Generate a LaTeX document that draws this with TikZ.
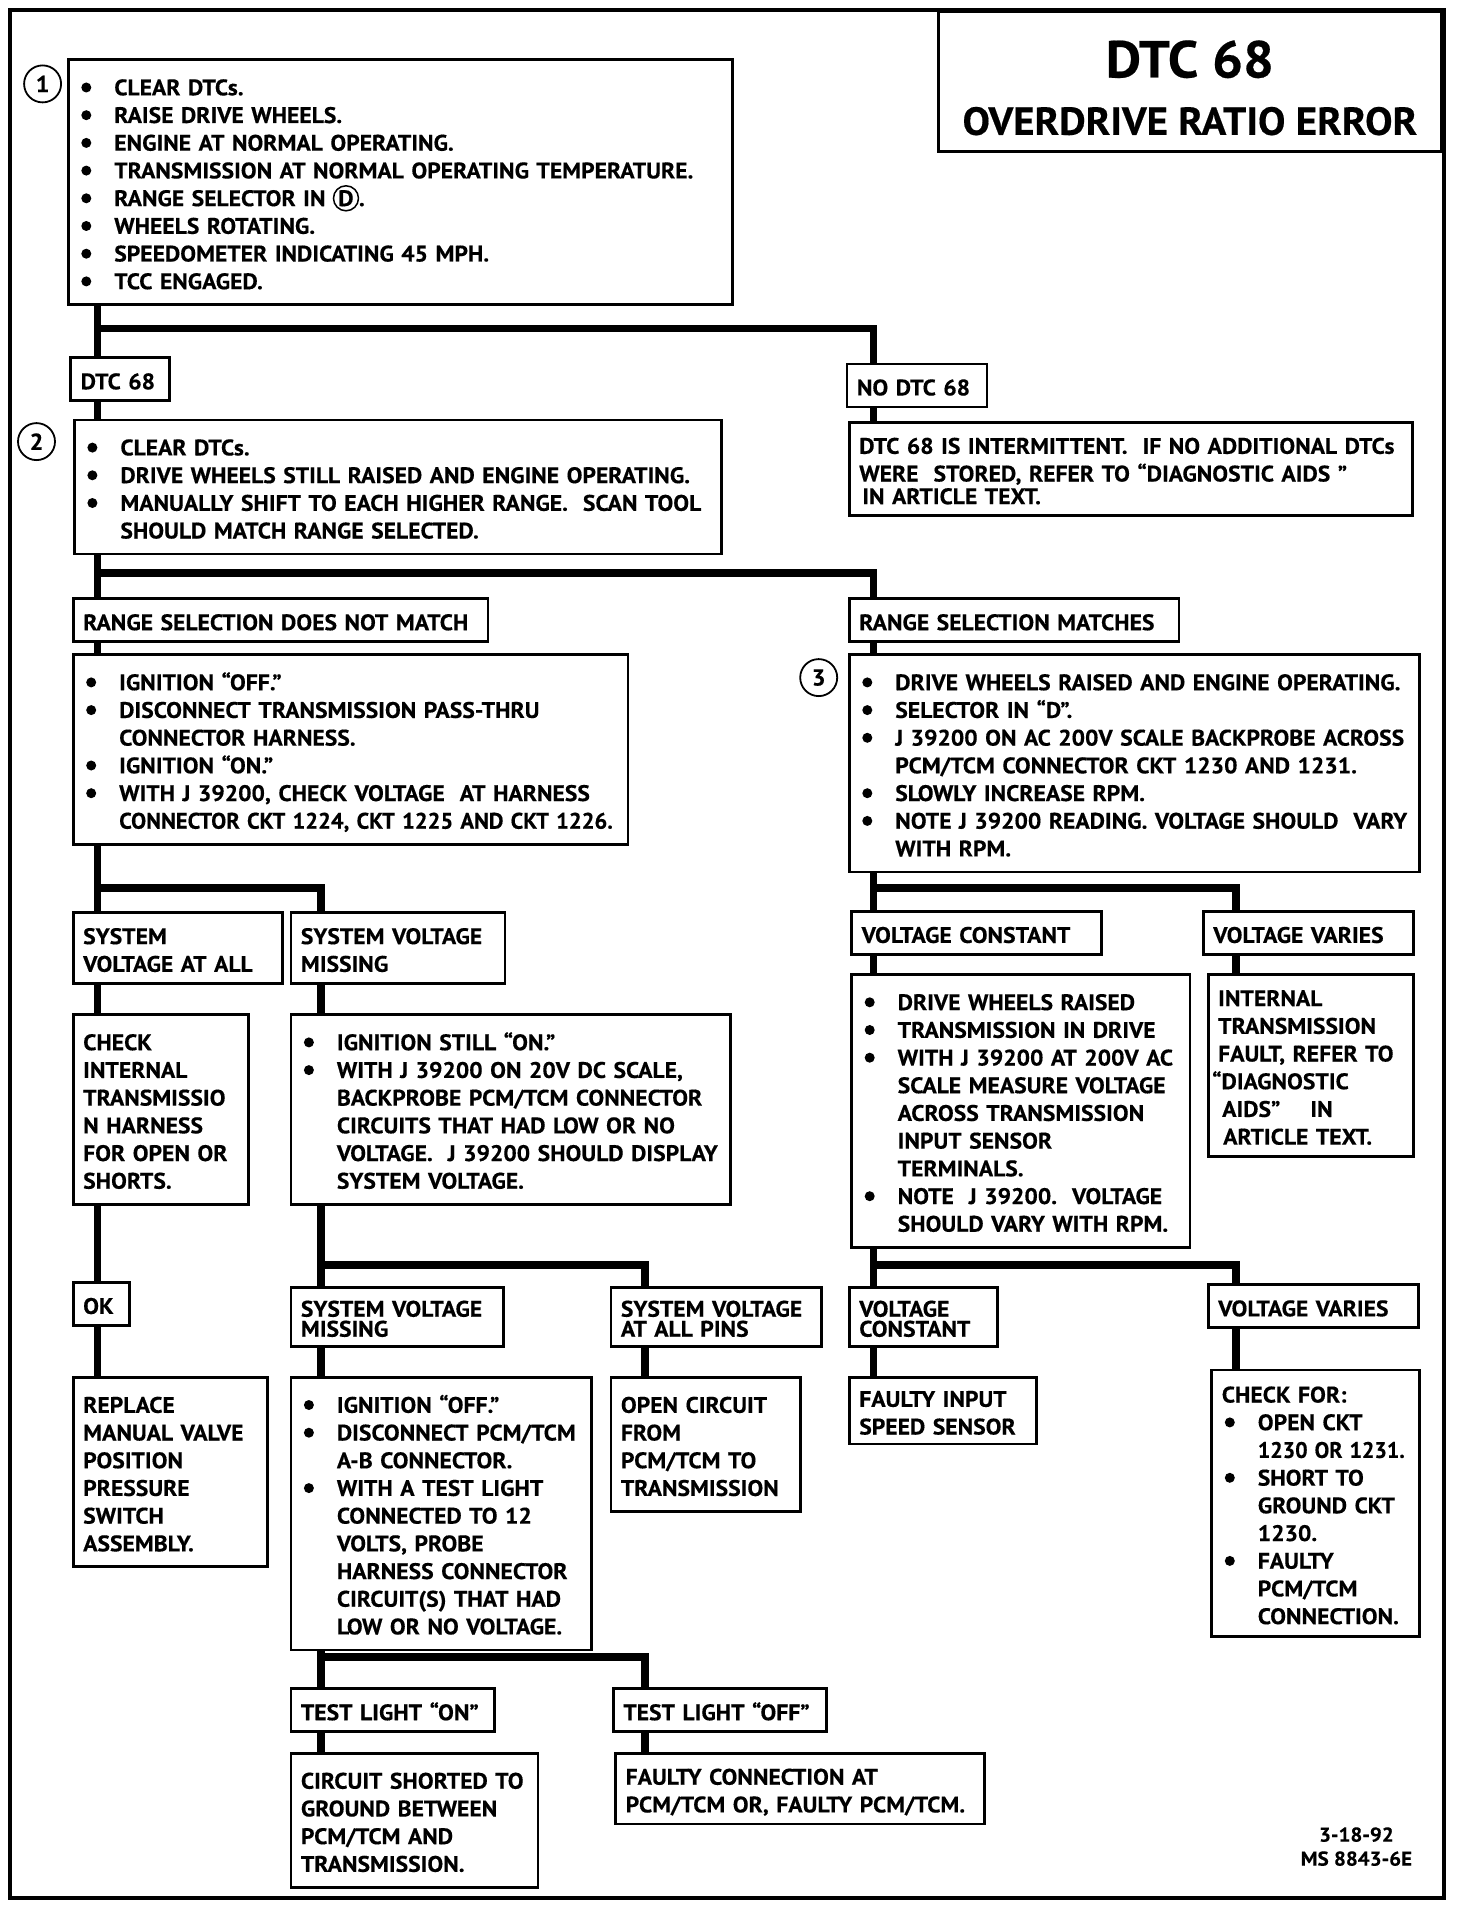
\documentclass[tikz,border=0pt]{standalone}
\usepackage{fontspec}
\setmainfont{PT Sans}[FakeStretch=1.05,BoldFeatures={FakeBold=0.4}]
\usepackage{tikz}

% box text: bold caps, fixed line pitch
\newcommand\bx{\bfseries\fontsize{22.5}{27.7}\selectfont}
\newcommand\bxt{\bfseries\fontsize{22.5}{20}\selectfont}
\newcommand\bs{\rule{0pt}{23.5pt}}
\newcommand\be{\ifhmode\rule[-3.5pt]{0pt}{3.5pt}\fi}
\newcommand\ei{\rule[-3.5pt]{0pt}{3.5pt}\par}
\newcommand\para{\rightskip=0pt plus 1fil minus 30pt\relax\linepenalty=5000\relax}
\newcommand\nl{\hfil\break}
\newcommand\dotb{\tikz[baseline=0pt]\fill (0pt,7.8pt) circle (5pt);}
\newcommand\bi{\hangindent=36pt\hangafter=1\makebox[36pt][l]{\hspace{3pt}\dotb}}
\newcommand\cD{\makebox[26pt]{D}\tikz[overlay]\draw[line width=1.5pt] (-13pt,7.8pt) circle (12.5pt);}

\begin{document}
\begin{tikzpicture}[x=1pt,y=-1pt,
  box/.style={draw,line width=2.8pt,anchor=north west,inner xsep=10pt,inner ysep=12pt,
    font=\bx,execute at begin node={\para\bs},execute at end node=\be},
  lab/.style={box,inner ysep=8pt},
  tight/.style={box,inner ysep=6pt,font=\bxt},
  num/.style={circle,draw,line width=1.8pt,minimum size=37pt,inner sep=0pt,font=\bfseries\fontsize{23}{23}\selectfont},
  conn/.style={line width=7.5pt}]
\useasboundingbox (0,0) rectangle (1472,1908);
\draw[line width=4pt] (9.7,9.7) rectangle (1444,1897.7);

% title
\node[draw,line width=2.8pt,anchor=north west,minimum width=503pt,minimum height=140pt,inner sep=0pt] (ttl) at (937,10)
  {\parbox{483pt}{\centering\bfseries\fontsize{52}{57.3}\selectfont\rule{0pt}{50pt}DTC 68\\
   \fontsize{39}{57.3}\selectfont OVERDRIVE RATIO ERROR}};

% step numbers
\node[num] (n1) at (42.6,83.9) {1};
\node[num] (n2) at (36.5,441.6) {2};
\node[num] (n3) at (818.7,677.6) {3};

% left column
\node[box,text width=644pt] (s1) at (66.9,58.4)
  {\bi CLEAR DTCs.\par
   \bi RAISE DRIVE WHEELS.\par
   \bi ENGINE AT NORMAL OPERATING.\par
   \bi TRANSMISSION AT NORMAL OPERATING TEMPERATURE.\par
   \bi RANGE SELECTOR IN \cD.\par
   \bi WHEELS ROTATING.\par
   \bi SPEEDOMETER INDICATING 45 MPH.\par
   \bi TCC ENGAGED.\ei};
\node[lab,text width=78.5pt] (dtc) at (69.3,356.4) {DTC 68};
\node[lab,text width=120pt] (nodtc) at (845.5,362.5) {NO DTC 68};
\node[box,text width=627pt] (s2) at (73,418.5)
  {\bi CLEAR DTCs.\par
   \bi DRIVE WHEELS STILL RAISED AND ENGINE OPERATING.\par
   \bi MANUALLY SHIFT TO EACH HIGHER RANGE.\ \ SCAN TOOL\nl
   SHOULD MATCH RANGE SELECTED.\ei};
\node[box,inner ysep=8pt,text width=543pt] (inter) at (847.9,420.9)
  {DTC 68 IS INTERMITTENT.\ \ IF NO ADDITIONAL DTCs\\
   WERE\ \ STORED, REFER TO “DIAGNOSTIC AIDS ”\\[-5pt]
   \hspace*{3pt}IN ARTICLE TEXT.};
\node[lab,text width=394.8pt] (rnm) at (71.8,597.3) {RANGE SELECTION DOES NOT MATCH};
\node[lab,text width=309.7pt] (rm) at (847.9,597.3) {RANGE SELECTION MATCHES};
\node[box,text width=534.7pt] (dis) at (71.8,653.3)
  {\bi IGNITION “OFF.”\par
   \bi DISCONNECT TRANSMISSION PASS-THRU\nl CONNECTOR HARNESS.\par
   \bi IGNITION “ON.”\par
   \bi WITH J 39200, CHECK VOLTAGE\ \ AT HARNESS\nl \scalebox{0.955}[1]{CONNECTOR CKT 1224, CKT 1225 AND CKT 1226.}\ei};
\node[box,text width=550.5pt] (s3) at (847.9,653.3)
  {\bi DRIVE WHEELS RAISED AND ENGINE OPERATING.\par
   \bi SELECTOR IN “D”.\par
   \bi J 39200 ON AC 200V SCALE BACKPROBE ACROSS\nl PCM/TCM CONNECTOR CKT 1230 AND 1231.\par
   \bi SLOWLY INCREASE RPM.\par
   \bi NOTE J 39200 READING. VOLTAGE SHOULD\ \ VARY\nl WITH RPM.\ei};

\node[lab,text width=189.2pt] (sva) at (71.8,911.2) {SYSTEM\\ VOLTAGE AT ALL};
\node[lab,text width=194pt] (svm1) at (289.5,911.2) {SYSTEM VOLTAGE\\ MISSING};
\node[lab,text width=229.4pt] (vc1) at (850.3,910) {VOLTAGE CONSTANT};
\node[lab,text width=190.5pt] (vv1) at (1201.9,910) {VOLTAGE VARIES};

\node[box,text width=155.2pt] (chk) at (71.8,1013.3)
  {CHECK\\ INTERNAL\\ TRANSMISSIO\\ N HARNESS\\ FOR OPEN OR\\ SHORTS.};
\node[box,text width=419.2pt] (ign) at (289.5,1013.3)
  {\bi IGNITION STILL “ON.”\par
   \bi WITH J 39200 ON 20V DC SCALE,\nl BACKPROBE PCM/TCM CONNECTOR\nl CIRCUITS THAT HAD LOW OR NO\nl
   VOLTAGE.\ \ J 39200 SHOULD DISPLAY\nl SYSTEM VOLTAGE.\ei};
\node[box,text width=318.2pt] (dwr) at (850.3,973.2)
  {\bi DRIVE WHEELS RAISED\par
   \bi TRANSMISSION IN DRIVE\par
   \bi WITH J 39200 AT 200V AC\nl SCALE MEASURE VOLTAGE\nl ACROSS TRANSMISSION\nl INPUT SENSOR\nl TERMINALS.\par
   \bi NOTE\ \ J 39200.\ \ VOLTAGE\nl SHOULD VARY WITH RPM.\ei};
\node[box,inner ysep=8pt,text width=185.6pt] (itf) at (1206.8,973.2)
  {INTERNAL\\ TRANSMISSION\\ FAULT, REFER TO\\ \hspace*{-6pt}“DIAGNOSTIC\\ \hspace*{4pt}AIDS”\ \ \ \ IN\\ \hspace*{5pt}ARTICLE TEXT.};

\node[lab,text width=36pt] (ok) at (71.8,1281) {OK};
\node[tight,text width=192.9pt] (svm2) at (289.5,1285.8) {SYSTEM VOLTAGE\\ MISSING};
\node[tight,text width=190.5pt] (svp) at (609.5,1285.8) {SYSTEM VOLTAGE\\ AT ALL PINS};
\node[tight,text width=128.4pt] (vc2) at (847.9,1285.8) {VOLTAGE\\ CONSTANT};
\node[lab,text width=190.5pt] (vv2) at (1206.8,1283.4) {VOLTAGE VARIES};

\node[box,text width=174.6pt] (rep) at (71.8,1375.9)
  {REPLACE\\ MANUAL VALVE\\ POSITION\\ PRESSURE\\ SWITCH\\ ASSEMBLY.};
\node[box,text width=280.5pt] (tst) at (289.5,1375.9)
  {\bi IGNITION “OFF.”\par
   \bi DISCONNECT PCM/TCM\nl A-B CONNECTOR.\par
   \bi WITH A TEST LIGHT\nl CONNECTED TO 12\nl VOLTS, PROBE\nl HARNESS CONNECTOR\nl CIRCUIT(S) THAT HAD\nl LOW OR NO VOLTAGE.\ei};
\node[box,text width=169.8pt] (ocf) at (609.5,1375.9)
  {OPEN CIRCUIT\\ FROM\\ PCM/TCM TO\\ TRANSMISSION};
\node[box,inner ysep=6pt,text width=167.3pt] (fis) at (847.9,1375.9)
  {FAULTY INPUT\\ SPEED SENSOR};
\node[box,inner ysep=9pt,text width=188pt] (cfr) at (1210.4,1368.6)
  {CHECK FOR:\par
   \bi OPEN CKT\nl \scalebox{0.93}[1]{1230 OR 1231.}\par
   \bi SHORT TO\nl GROUND CKT\nl 1230.\par
   \bi FAULTY\nl PCM/TCM\nl CONNECTION.\ei};

\node[lab,text width=183.2pt] (tlon) at (289.5,1687.3) {TEST LIGHT “ON”};
\node[lab,text width=192.9pt] (tloff) at (611.9,1687.3) {TEST LIGHT “OFF”};
\node[box,text width=227pt] (cst) at (289.5,1751.8)
  {CIRCUIT SHORTED TO\\ GROUND BETWEEN\\ PCM/TCM AND\\ TRANSMISSION.};
\node[box,inner ysep=8pt,text width=348.6pt] (fcn) at (614.3,1751.8)
  {FAULTY CONNECTION AT\\ PCM/TCM OR, FAULTY PCM/TCM.};

\node[align=center,font=\bfseries\fontsize{20}{24}\selectfont] (date) at (1356.4,1846.6) {3-18-92\\ MS 8843-6E};

% trunk columns and branch points
\coordinate (xL) at (97.3,0);
\coordinate (xM) at (321.2,0);
\coordinate (xP) at (644.8,0);
\coordinate (xR) at (873.5,0);
\coordinate (xRR) at (1236,0);
\coordinate (b1) at (97.3,328.5);
\coordinate (b2) at (97.3,573);
\coordinate (b3) at (97.3,888);
\coordinate (b4) at (873.5,888);
\coordinate (b5) at (321.2,1265.2);
\coordinate (b6) at (873.5,1265.2);
\coordinate (b7) at (321.2,1656.9);

\draw[conn] (xL |- s1.south) -- (xL |- dtc.north);
\draw[conn] (b1) -| (xR |- nodtc.north);
\draw[conn] (xL |- dtc.south) -- (xL |- s2.north);
\draw[conn] (xR |- nodtc.south) -- (xR |- inter.north);
\draw[conn] (xL |- s2.south) -- (xL |- rnm.north);
\draw[conn] (b2) -| (xR |- rm.north);
\draw[conn] (xL |- rnm.south) -- (xL |- dis.north);
\draw[conn] (xR |- rm.south) -- (xR |- s3.north);
\draw[conn] (xL |- dis.south) -- (xL |- sva.north);
\draw[conn] (b3) -| (xM |- svm1.north);
\draw[conn] (xR |- s3.south) -- (xR |- vc1.north);
\draw[conn] (b4) -| (xRR |- vv1.north);
\draw[conn] (xL |- sva.south) -- (xL |- chk.north);
\draw[conn] (xM |- svm1.south) -- (xM |- ign.north);
\draw[conn] (xR |- vc1.south) -- (xR |- dwr.north);
\draw[conn] (xRR |- vv1.south) -- (xRR |- itf.north);
\draw[conn] (xL |- chk.south) -- (xL |- ok.north);
\draw[conn] (xL |- ok.south) -- (xL |- rep.north);
\draw[conn] (xM |- ign.south) -- (xM |- svm2.north);
\draw[conn] (b5) -| (xP |- svp.north);
\draw[conn] (xR |- dwr.south) -- (xR |- vc2.north);
\draw[conn] (b6) -| (xRR |- vv2.north);
\draw[conn] (xM |- svm2.south) -- (xM |- tst.north);
\draw[conn] (xP |- svp.south) -- (xP |- ocf.north);
\draw[conn] (xR |- vc2.south) -- (xR |- fis.north);
\draw[conn] (xRR |- vv2.south) -- (xRR |- cfr.north);
\draw[conn] (xM |- tst.south) -- (xM |- tlon.north);
\draw[conn] (b7) -| (xP |- tloff.north);
\draw[conn] (xM |- tlon.south) -- (xM |- cst.north);
\draw[conn] (xP |- tloff.south) -- (xP |- fcn.north);
\end{tikzpicture}
\end{document}
